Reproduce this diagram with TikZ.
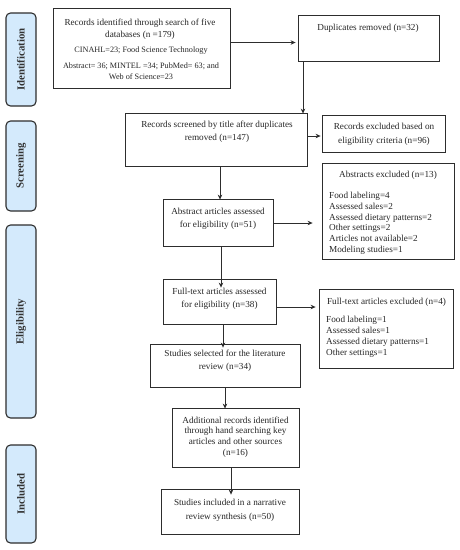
\documentclass[tikz,border=0pt]{standalone}
\usepackage{fontspec}
\setmainfont{Liberation Serif}
\usetikzlibrary{arrows.meta}
\definecolor{sideblue}{RGB}{212,234,252}
\definecolor{edge}{RGB}{45,45,45}
\begin{document}
\begin{tikzpicture}[x=1pt,y=-1pt,
  box/.style={draw=edge, line width=0.8pt, inner sep=0pt},
  side/.style={draw=edge, fill=sideblue, line width=1.1pt, rounded corners=4.5pt, inner sep=0pt,
    rotate=90, font=\fontsize{10.8}{12}\selectfont\bfseries, text=black!80},
  arr/.style={-{Stealth[length=5pt,width=4.5pt]}, line width=0.8pt, draw=edge},
  txt/.style={font=\fontsize{9.2}{12}\selectfont, align=center, inner sep=0pt, anchor=north, text=black!85},
  lst/.style={font=\fontsize{9.2}{10.8}\selectfont, align=left, inner sep=0pt, anchor=north west, text=black!85}]
\useasboundingbox (0,0) rectangle (459,550);
\fill[white] (0,0) rectangle (459,550);

% side bars
\node[side, minimum width=93pt, minimum height=30pt] (sId) at (21,59.5) {Identification};
\node[side, minimum width=90pt, minimum height=30pt] (sSc) at (21,166) {Screening};
\node[side, minimum width=193pt, minimum height=30pt] (sEl) at (21,321.5) {Eligibility};
\node[side, minimum width=98pt, minimum height=30pt] (sIn) at (21,494) {Included};

% boxes
\node[box, minimum width=177pt, minimum height=80pt] (ident) at (141.5,48) {};
\node[box, minimum width=141pt, minimum height=46pt] (dup) at (368.5,38) {};
\node[box, minimum width=182pt, minimum height=53pt] (screen) at (216,139.5) {};
\node[box, minimum width=123pt, minimum height=37pt] (excl) at (383.5,133.5) {};
\node[box, minimum width=110pt, minimum height=47pt] (abs) at (218,222.5) {};
\node[box, minimum width=132pt, minimum height=96pt] (absx) at (388,211) {};
\node[box, minimum width=113pt, minimum height=45pt] (full) at (219.5,301.5) {};
\node[box, minimum width=134pt, minimum height=79pt] (fullx) at (386,328.5) {};
\node[box, minimum width=150pt, minimum height=43pt] (sel) at (225,365.5) {};
\node[box, minimum width=127pt, minimum height=59pt] (add) at (235.5,437.5) {};
\node[box, minimum width=138pt, minimum height=45pt] (incl) at (230,511.5) {};

% texts
\node[txt] (t1) at (140,18.5) {Records identified through search of five\\databases (n =179)};
\node[txt, font=\fontsize{8.2}{10}\selectfont] (t2) at (141,47) {CINAHL=23; Food Science Technology};
\node[txt, font=\fontsize{8.2}{10.5}\selectfont] (t3) at (141,63) {Abstract= 36; MINTEL =34; PubMed= 63; and\\Web of Science=23};
\node[txt] (t4) at (368,24) {Duplicates removed (n=32)};
\node[txt, font=\fontsize{9.2}{13}\selectfont] (t5) at (217,120.5) {Records screened by title after duplicates\\removed (n=147)};
\node[txt, font=\fontsize{9.2}{13.5}\selectfont] (t6) at (384,123) {Records excluded based on\\eligibility criteria (n=96)};
\node[txt, font=\fontsize{9.2}{13}\selectfont] (t7) at (218,208) {Abstract articles assessed\\for eligibility (n=51)};
\node[txt] (t8) at (388,171) {Abstracts excluded (n=13)};
\node[lst] (t9) at (329,192) {Food labeling=4\\Assessed sales=2\\Assessed dietary patterns=2\\Other settings=2\\Articles not available=2\\Modeling studies=1};
\node[txt, font=\fontsize{9.2}{13}\selectfont] (t10) at (219.5,288) {Full-text articles assessed\\for eligibility (n=38)};
\node[txt] (t11) at (386.5,298) {Full-text articles excluded (n=4)};
\node[lst, font=\fontsize{9.2}{11.2}\selectfont] (t12) at (326,315.5) {Food labeling=1\\Assessed sales=1\\Assessed dietary patterns=1\\Other settings=1};
\node[txt, font=\fontsize{9.2}{12.8}\selectfont] (t13) at (225,350) {Studies selected for the literature\\review (n=34)};
\node[txt, font=\fontsize{9.2}{10.8}\selectfont] (t14) at (235.5,416.5) {Additional records identified\\through hand searching key\\articles and other sources\\(n=16)};
\node[txt, font=\fontsize{9.2}{14}\selectfont] (t15) at (230,498.5) {Studies included in a narrative\\review synthesis (n=50)};

% arrows
\draw[arr] (ident.east |- 0,42.5) -- ([xshift=-2pt]dup.west |- 0,42.5);
\draw[arr] (dup.south -| 303,0) -- ([yshift=-1pt]screen.north -| 303,0);
\draw[arr] (screen.east |- 0,136) -- ([xshift=-1pt]excl.west |- 0,136);
\draw[arr] (screen.south -| 220,0) -- ([yshift=-1pt]abs.north -| 220,0);
\draw[arr] (abs.east |- 0,223) -- ([xshift=-9pt]absx.west |- 0,223);
\draw[arr] (abs.south -| 221,0) -- ([yshift=-9pt]full.north -| 221,0);
\draw[arr] (full.east |- 0,307) -- ([xshift=-3pt]fullx.west |- 0,307);
\draw[arr] (full.south -| 223,0) -- ([yshift=-4pt]sel.north -| 223,0);
\draw[arr] (sel.south -| 225,0) -- ([yshift=-1pt]add.north -| 225,0);
\draw[arr] (add.south -| 231,0) -- ([yshift=-6pt]incl.north -| 231,0);
\end{tikzpicture}
\end{document}
